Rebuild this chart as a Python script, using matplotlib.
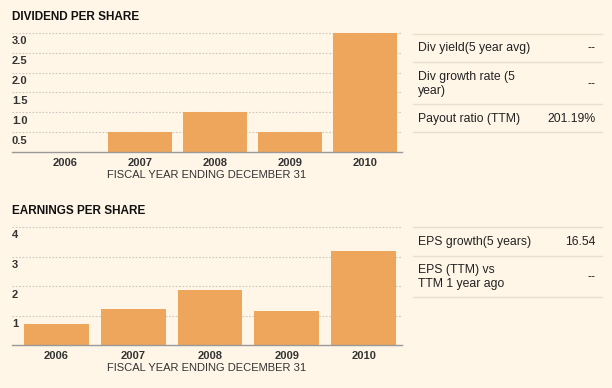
import matplotlib.pyplot as plt
import matplotlib.transforms as mtransforms
from matplotlib.lines import Line2D

plt.rcParams['font.family'] = ['Liberation Sans', 'DejaVu Sans']

years = ["2006", "2007", "2008", "2009", "2010"]
dividend = [0.0, 0.5, 1.0, 0.5, 3.0]
earnings = [0.72, 1.23, 1.87, 1.16, 3.19]
div_ticks = [0.5, 1.0, 1.5, 2.0, 2.5, 3.0]
div_tick_labels = ["0.5", "1.0", "1.5", "2.0", "2.5", "3.0"]
eps_ticks = [1, 2, 3, 4]
eps_tick_labels = ["1", "2", "3", "4"]

div_stats = ["Div yield(5 year avg)", "Div growth rate (5\nyear)", "Payout ratio (TTM)"]
div_stat_values = ["--", "--", "201.19%"]
eps_stats = ["EPS growth(5 years)", "EPS (TTM) vs\nTTM 1 year ago"]
eps_stat_values = ["16.54", "--"]

BG = "#FFF6E8"
BAR = "#EEA65C"
W, H = 612, 388

fig = plt.figure(figsize=(W / 100, H / 100), dpi=100)
fig.patch.set_facecolor(BG)


def px_axes(x0, y0, x1, y1):
    # pixel box (top-left origin) -> figure axes
    return fig.add_axes([x0 / W, 1 - y1 / H, (x1 - x0) / W, (y1 - y0) / H])


def bar_panel(box, values, ticks, tick_labels, ymax, xlim, title, title_y, width):
    ax = px_axes(*box)
    ax.set_facecolor(BG)
    x = range(len(years))
    ax.bar(x, values, width=width, color=BAR, zorder=2)
    ax.set_xlim(*xlim)
    ax.set_ylim(0, ymax)
    for t in ticks:
        ax.axhline(t, color="#cdc8bf", lw=0.8, ls=(0, (1.5, 1.5)), zorder=1, clip_on=False)
    off = mtransforms.offset_copy(ax.get_yaxis_transform(), fig=fig, x=0, y=-3.5, units="dots")
    for t, lab in zip(ticks, tick_labels):
        ax.text(0.0, t, lab, transform=off, ha="left", va="top",
                fontsize=8, fontweight="bold", color="#333333")
    ax.set_yticks([])
    ax.set_xticks(list(x))
    ax.set_xticklabels(years, fontsize=8, fontweight="bold", color="#333333")
    ax.tick_params(axis="x", length=0, pad=4)
    for s in ["top", "right", "left"]:
        ax.spines[s].set_visible(False)
    ax.spines["bottom"].set_color("#999999")
    ax.spines["bottom"].set_linewidth(1)
    ax.set_xlabel("FISCAL YEAR ENDING DECEMBER 31", fontsize=8, color="#333333", labelpad=2)
    fig.text(12 / W, 1 - title_y / H, title, fontsize=8.5, fontweight="bold",
             color="#111111", ha="left", va="center")
    return ax


bar_panel((12, 33, 402, 152), dividend, div_ticks, div_tick_labels, 3.0,
          (-0.707, 4.493), "DIVIDEND PER SHARE", 17, 0.853)
bar_panel((12, 227, 402, 345), earnings, eps_ticks, eps_tick_labels, 4.0,
          (-0.578, 4.5), "EARNINGS PER SHARE", 211, 0.845)


def stat_panel(lines_y, text_y, labels, values):
    for y in lines_y:
        fig.add_artist(Line2D([413 / W, 602 / W], [1 - y / H, 1 - y / H],
                              color="#E9DFCF", lw=1))
    for y, lab, val in zip(text_y, labels, values):
        fig.text(418 / W, 1 - y / H, lab, fontsize=8.8, color="#222222",
                 ha="left", va="center", linespacing=1.25)
        fig.text(596 / W, 1 - y / H, val, fontsize=8.8, color="#222222",
                 ha="right", va="center")


stat_panel([33.5, 62, 104, 132], [48, 84, 119], div_stats, div_stat_values)
stat_panel([227, 256, 297], [242, 277], eps_stats, eps_stat_values)

fig.savefig("out.png", dpi=100, facecolor=BG)
